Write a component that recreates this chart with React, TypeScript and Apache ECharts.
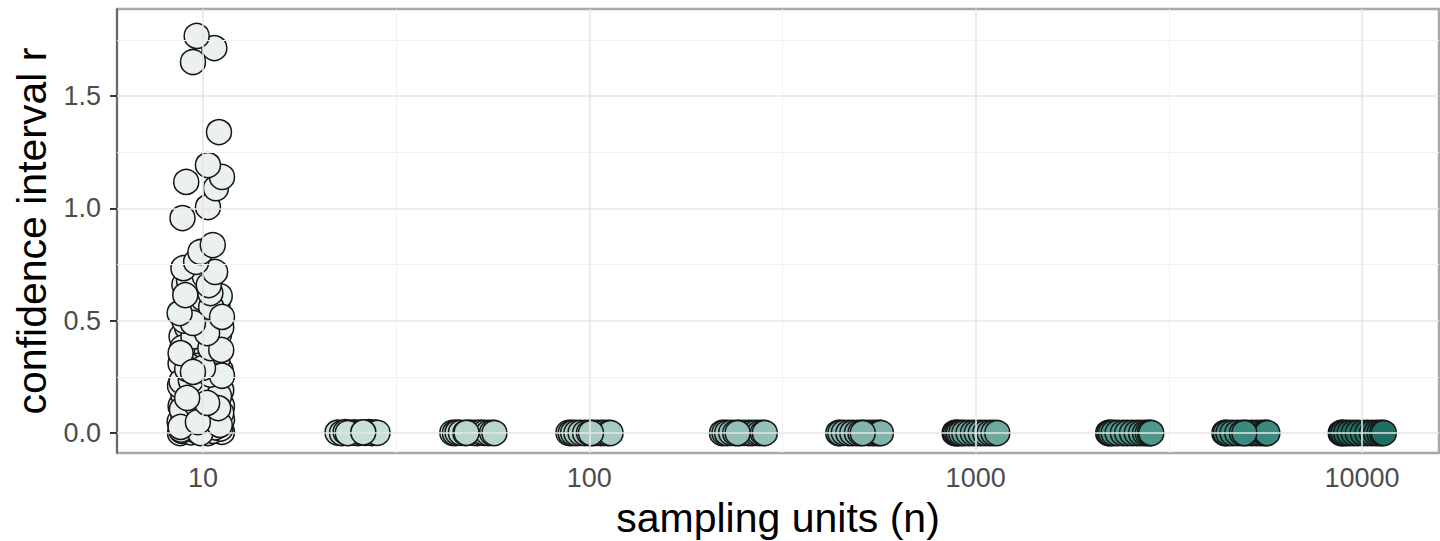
import React, { useEffect, useRef } from "react";
import * as echarts from "echarts";

const sampleSizes = [10, 25, 50, 100, 250, 500, 1000, 2500, 5000, 10000];
const fillColors = [
  "#ebf1ef", "#c9dfda", "#b8d5cf", "#a6cbc5", "#93c0b9",
  "#80b4ac", "#6ca99f", "#4e978c", "#3c8a7f", "#216f64",
];

const n10: [number, number][] = [
  [8.72, 0.0], [10.3, 0.0], [9.3, 0.003], [11.2, 0.005], [8.8, 0.01], [9.6, 0.01], [10.6, 0.01],
  [11.1, 0.02], [10.0, 0.02], [9.1, 0.03], [10.4, 0.04], [8.7, 0.05], [9.5, 0.06], [11.2, 0.06],
  [10.8, 0.07], [8.9, 0.08], [10.1, 0.09], [9.3, 0.1], [8.75, 0.12], [11.2, 0.12], [10.7, 0.14],
  [9.8, 0.15], [8.9, 0.17], [10.3, 0.18], [11.15, 0.19], [9.5, 0.2], [8.72, 0.21], [10.7, 0.22],
  [10.0, 0.24], [9.0, 0.25], [11.1, 0.28], [10.3, 0.3], [8.75, 0.31], [9.7, 0.32], [10.9, 0.33],
  [9.2, 0.37], [10.0, 0.39], [9.6, 0.41], [8.8, 0.43], [11.0, 0.44], [9.1, 0.47], [10.6, 0.5],
  [9.9, 0.53], [9.75, 0.55], [10.9, 0.57], [9.3, 0.58], [10.0, 0.6], [11.05, 0.61], [8.95, 0.66],
  [9.2, 0.68], [10.1, 0.7],
  [8.78, 0.015], [9.95, 0.035], [10.75, 0.025], [9.4, 0.045], [11.15, 0.09], [8.82, 0.105],
  [10.45, 0.115], [9.65, 0.125], [10.05, 0.165], [11.0, 0.165], [8.8, 0.23], [9.3, 0.235],
  [10.45, 0.26], [11.2, 0.255], [9.1, 0.285], [10.0, 0.29], [8.85, 0.38], [10.6, 0.4],
  [9.45, 0.43], [10.3, 0.48], [8.95, 0.5], [11.15, 0.47], [10.5, 0.56],
  [9.85, 0.0], [11.05, 0.036], [8.75, 0.027], [9.7, 0.049], [10.95, 0.111], [10.25, 0.134],
  [9.1, 0.156], [8.75, 0.356], [9.42, 0.272], [10.45, 0.378], [11.15, 0.37], [10.25, 0.445],
  [9.42, 0.49], [11.2, 0.517], [8.7, 0.534], [9.0, 0.614], [10.45, 0.623], [10.35, 0.659],
  [10.75, 0.717], [8.9, 0.734], [9.6, 0.762], [9.85, 0.806], [10.6, 0.837], [8.85, 0.957],
  [10.3, 1.006], [10.8, 1.09], [9.05, 1.118], [11.2, 1.14], [10.3, 1.193], [11.0, 1.34],
  [9.42, 1.652], [10.7, 1.714], [9.63, 1.768],
];
const n25: [number, number][] = [
  [22.3, 0.002], [22.9, 0.0], [23.4, 0.004], [24.0, 0.001], [24.6, 0.003], [25.2, 0.0], [25.7, 0.002],
  [26.3, 0.001], [26.9, 0.004], [27.4, 0.0], [27.9, 0.002], [28.3, 0.001], [23.7, 0.0], [26.0, 0.003],
];
const n50: [number, number][] = [
  [44.2, 0.001], [44.9, 0.0], [45.6, 0.002], [46.5, 0.001], [47.8, 0.0], [49.0, 0.002], [50.3, 0.001],
  [51.2, 0.0], [52.4, 0.002], [53.6, 0.001], [54.8, 0.0], [56.0, 0.001], [56.8, 0.0], [48.1, 0.001],
];
const n100: [number, number][] = [
  [88.3, 0.001], [89.5, 0.0], [90.8, 0.001], [92.6, 0.0], [94.9, 0.001], [97.5, 0.0], [99.8, 0.001],
  [102.4, 0.0], [104.6, 0.001], [107.1, 0.0], [109.3, 0.001], [111.6, 0.0], [113.5, 0.0], [101.0, 0.0],
];
const n250: [number, number][] = [
  [220.5, 0.0], [223.8, 0.001], [227.4, 0.0], [232.9, 0.001], [238.6, 0.0], [245.1, 0.0], [251.7, 0.001],
  [258.2, 0.0], [264.0, 0.0], [270.3, 0.001], [276.1, 0.0], [281.4, 0.0], [284.6, 0.0], [242.0, 0.0],
];
const n500: [number, number][] = [
  [441.0, 0.0], [446.3, 0.0], [455.8, 0.001], [468.2, 0.0], [479.5, 0.0], [492.7, 0.0], [503.4, 0.0],
  [517.0, 0.001], [529.6, 0.0], [541.8, 0.0], [553.1, 0.0], [561.9, 0.0], [568.7, 0.0], [510.2, 0.0],
];
const n1000: [number, number][] = [
  [882.0, 0.0], [888.5, 0.0], [897.1, 0.0], [905.4, 0.0], [918.0, 0.0], [934.6, 0.0], [958.3, 0.0],
  [984.0, 0.0], [1006.5, 0.0], [1031.2, 0.0], [1058.9, 0.0], [1087.4, 0.0], [1112.0, 0.0], [1137.5, 0.0],
];
const n2500: [number, number][] = [
  [2203.0, 0.0], [2218.0, 0.0], [2241.0, 0.0], [2276.0, 0.0], [2330.0, 0.0], [2405.0, 0.0], [2468.0, 0.0],
  [2540.0, 0.0], [2612.0, 0.0], [2680.0, 0.0], [2745.0, 0.0], [2790.0, 0.0], [2826.0, 0.0], [2849.0, 0.0],
];
const n5000: [number, number][] = [
  [4405.0, 0.0], [4440.0, 0.0], [4512.0, 0.0], [4620.0, 0.0], [4755.0, 0.0], [4890.0, 0.0], [5030.0, 0.0],
  [5180.0, 0.0], [5320.0, 0.0], [5455.0, 0.0], [5570.0, 0.0], [5640.0, 0.0], [5690.0, 0.0], [4960.0, 0.0],
];
const n10000: [number, number][] = [
  [8810.0, 0.0], [8870.0, 0.0], [8960.0, 0.0], [9100.0, 0.0], [9290.0, 0.0], [9520.0, 0.0], [9760.0, 0.0],
  [10050.0, 0.0], [10330.0, 0.0], [10610.0, 0.0], [10880.0, 0.0], [11090.0, 0.0], [11260.0, 0.0], [11390.0, 0.0],
];
const groups = [n10, n25, n50, n100, n250, n500, n1000, n2500, n5000, n10000];

const xTickValues = [10, 100, 1000, 10000];
const xMinorValues = [31.623, 316.23, 3162.3];
const yTickValues = [0, 0.5, 1.0, 1.5];
const yMinorValues = [0.25, 0.75, 1.25, 1.75];

const FONT = "Liberation Sans, Arial, Helvetica, sans-serif";

export default function App() {
  const ref = useRef<HTMLDivElement>(null);
  useEffect(() => {
    if (!ref.current) return;
    const chart = echarts.init(ref.current, undefined, { renderer: "svg" });
    const major = { color: "#e6e6e6", width: 1.6, type: "solid" as const };
    const minor = { color: "#f1f1f1", width: 1, type: "solid" as const };
    const gridLines = [
      ...xMinorValues.map((v) => ({ xAxis: v, lineStyle: minor })),
      ...yMinorValues.map((v) => ({ yAxis: v, lineStyle: minor })),
      ...xTickValues.map((v) => ({ xAxis: v, lineStyle: major })),
      ...yTickValues.map((v) => ({ yAxis: v, lineStyle: major })),
    ];
    chart.setOption({
      animation: false,
      backgroundColor: "#ffffff",
      grid: {
        left: 117,
        right: 1,
        top: 9,
        bottom: 88,
        containLabel: false,
        outerBoundsMode: "none",
        show: true,
        borderColor: "#a8a8a8",
        borderWidth: 2.5,
        backgroundColor: "transparent",
      },
      xAxis: {
        type: "log",
        logBase: 10,
        min: 5.99,
        max: 15825,
        name: "sampling units (n)",
        nameLocation: "middle",
        nameGap: 44,
        nameTextStyle: { fontFamily: FONT, fontSize: 41, color: "#000" },
        axisLine: { show: false },
        splitLine: { show: false },
        minorSplitLine: { show: false },
        axisTick: {
          show: true,
          length: 7,
          lineStyle: { color: "#333", width: 2 },
          customValues: xTickValues,
        },
        axisLabel: {
          customValues: xTickValues,
          margin: 11,
          fontFamily: FONT,
          fontSize: 27,
          color: "#4d4d4d",
          formatter: (v: number) => String(Math.round(v)),
        },
      },
      yAxis: {
        type: "value",
        min: -0.089,
        max: 1.888,
        name: "confidence interval r",
        nameLocation: "middle",
        nameGap: 56,
        nameTextStyle: { fontFamily: FONT, fontSize: 41, color: "#000" },
        axisLine: { show: true, lineStyle: { color: "#555", width: 1.5 } },
        splitLine: { show: false },
        axisTick: {
          show: true,
          length: 7,
          lineStyle: { color: "#333", width: 2 },
          customValues: yTickValues,
        },
        axisLabel: {
          customValues: yTickValues,
          margin: 16,
          fontFamily: FONT,
          fontSize: 27,
          color: "#4d4d4d",
          formatter: (v: number) => v.toFixed(1),
        },
      },
      series: [
        {
          type: "line",
          data: [],
          z: 1,
          silent: true,
          markLine: {
            silent: true,
            symbol: ["none", "none"],
            label: { show: false },
            emphasis: { disabled: true },
            data: gridLines,
          },
        },
        ...groups.map((g, i) => ({
          type: "scatter",
          name: String(sampleSizes[i]),
          data: g,
          symbol: "circle",
          symbolSize: 25,
          z: 3,
          itemStyle: {
            color: fillColors[i],
            borderColor: "#161616",
            borderWidth: 1.5,
            opacity: 1,
          },
        })),
      ],
    });
    return () => chart.dispose();
  }, []);
  return (
    <div
      ref={ref}
      style={{ position: "fixed", left: 0, top: 0, width: 1440, height: 541 }}
    />
  );
}
